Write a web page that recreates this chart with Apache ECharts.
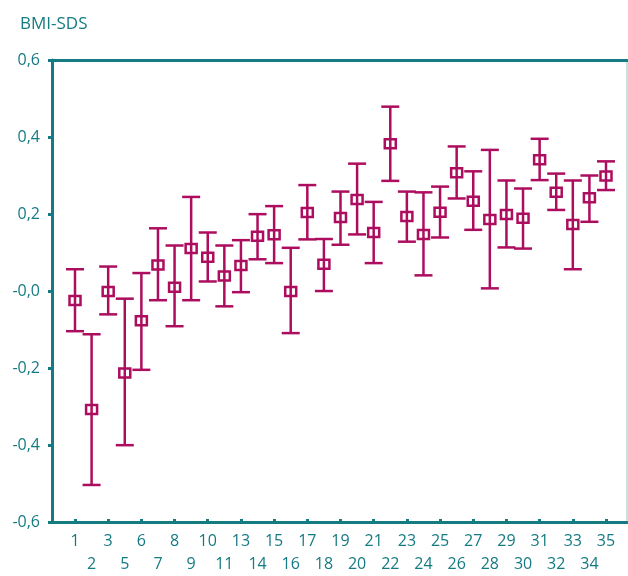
<!DOCTYPE html>
<html>
<head>
<meta charset="utf-8">
<script src="https://cdn.jsdelivr.net/npm/echarts@6/dist/echarts.min.js"></script>
<style>html,body{margin:0;padding:0;background:#fff}#c{width:628px;height:576px}</style>
</head>
<body>
<div id="c"></div>
<script>
const categories = ['1','2','3','5','6','7','8','9','10','11','13','14','15','16','17','18','19','20','21','22','23','24','25','26','27','28','29','30','31','32','33','34','35'];
const meanValues = [-0.029,-0.314,-0.005,-0.218,-0.082,0.064,0.006,0.107,0.084,0.035,0.063,0.139,0.143,-0.005,0.201,0.066,0.188,0.235,0.149,0.381,0.191,0.144,0.202,0.305,0.231,0.183,0.196,0.186,0.339,0.254,0.170,0.240,0.297];
const upperValues = [0.053,-0.117,0.060,-0.024,0.043,0.160,0.115,0.242,0.149,0.115,0.129,0.197,0.218,0.109,0.273,0.132,0.256,0.329,0.229,0.478,0.256,0.254,0.269,0.374,0.309,0.365,0.285,0.264,0.394,0.303,0.285,0.298,0.335];
const lowerValues = [-0.109,-0.511,-0.065,-0.407,-0.210,-0.028,-0.096,-0.028,0.021,-0.044,-0.007,0.079,0.069,-0.114,0.131,-0.004,0.117,0.144,0.069,0.284,0.125,0.037,0.136,0.238,0.156,0.003,0.110,0.107,0.286,0.208,0.053,0.177,0.260];
const yTickLabels = ['-0,6','-0,4','-0,2','-0,0','0,2','0,4','0,6'];

const teal = '#157b82';
const mag = '#ad0d5e';
const font = 'Open Sans';

const seriesData = categories.map((c, i) => [i, meanValues[i], upperValues[i], lowerValues[i]]);

const chart = echarts.init(document.getElementById('c'), null, {renderer: 'canvas'});
chart.setOption({
  animation: false,
  backgroundColor: '#fff',
  title: {
    text: 'BMI-SDS', left: 15, top: 11,
    textStyle: {color: teal, fontSize: 17, fontWeight: 'normal', fontFamily: font}
  },
  grid: [
    {left: 52, right: 1, top: 60, bottom: 54, show: true, borderColor: '#8fc4c7', borderWidth: 1, backgroundColor: 'transparent'},
    {left: 66.7, right: 13.7, top: 60, bottom: 54}
  ],
  xAxis: [
    {gridIndex: 0, type: 'value', min: 0, max: 1, position: 'bottom',
     axisLine: {show: true, onZero: false, lineStyle: {color: teal, width: 3}},
     axisTick: {show: false}, axisLabel: {show: false}, splitLine: {show: false}},
    {gridIndex: 0, type: 'value', min: 0, max: 1, position: 'top',
     axisLine: {show: true, onZero: false, lineStyle: {color: teal, width: 3}},
     axisTick: {show: false}, axisLabel: {show: false}, splitLine: {show: false}},
    {gridIndex: 1, type: 'category', data: categories, position: 'bottom', boundaryGap: true,
     axisLine: {show: false, onZero: false},
     axisTick: {show: true, alignWithLabel: true, length: 4, interval: (i) => i % 2 === 0,
                lineStyle: {color: teal, width: 3}},
     axisLabel: {interval: 0, margin: 11, color: teal, fontSize: 16, fontFamily: font, lineHeight: 23,
                 formatter: (v, i) => (i % 2 === 0 ? v : '\n' + v)},
     splitLine: {show: false}}
  ],
  yAxis: [
    {gridIndex: 0, type: 'value', min: -0.6, max: 0.6, interval: 0.2,
     axisLine: {show: true, onZero: false, lineStyle: {color: teal, width: 3}},
     axisTick: {show: true, length: 4, lineStyle: {color: teal, width: 3}},
     axisLabel: {color: teal, fontSize: 16, fontFamily: font, margin: 12,
                 formatter: (v) => yTickLabels[Math.round((v + 0.6) / 0.2)]},
     splitLine: {show: false}},
    {gridIndex: 1, type: 'value', min: -0.6, max: 0.6, interval: 0.2, show: false}
  ],
  series: [{
    type: 'custom',
    xAxisIndex: 2, yAxisIndex: 1,
    data: seriesData,
    encode: {x: 0, y: [1, 2, 3]},
    renderItem: function (params, api) {
      const c = api.coord([api.value(0), api.value(1)]);
      const hi = api.coord([api.value(0), api.value(2)]);
      const lo = api.coord([api.value(0), api.value(3)]);
      const cw = 9;
      const st = {stroke: mag, lineWidth: 2.5, fill: null};
      return {
        type: 'group',
        children: [
          {type: 'line', shape: {x1: c[0], y1: hi[1], x2: c[0], y2: lo[1]}, style: st},
          {type: 'line', shape: {x1: c[0] - cw, y1: hi[1], x2: c[0] + cw, y2: hi[1]}, style: st},
          {type: 'line', shape: {x1: c[0] - cw, y1: lo[1], x2: c[0] + cw, y2: lo[1]}, style: st},
          {type: 'rect', shape: {x: c[0] - 5.5, y: c[1] - 4.5, width: 11, height: 9},
           style: {stroke: mag, lineWidth: 2.5, fill: 'transparent'}}
        ]
      };
    }
  }]
});
</script>
</body>
</html>
